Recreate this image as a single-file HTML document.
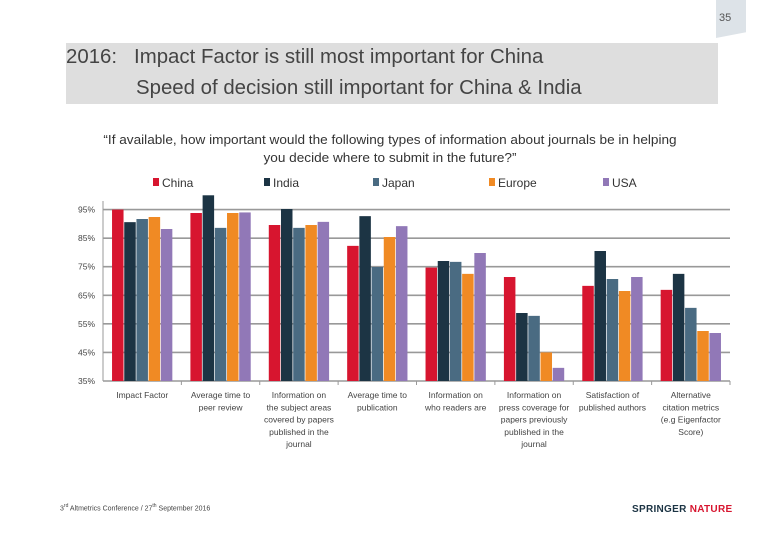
<!DOCTYPE html>
<html><head><meta charset="utf-8"><style>
body{margin:0;width:780px;height:540px;background:#fff;font-family:"Liberation Sans",sans-serif;position:relative;overflow:hidden;color:#333}
.abs{position:absolute}
</style></head><body>
<div class="abs" style="left:716px;top:0;width:30px;height:38px;background:#dde3e8;clip-path:polygon(0 0,100% 0,100% 85%,0 100%)"></div>
<div class="abs" style="left:719px;top:12px;font-size:11px;color:#555">35</div>
<div class="abs" style="left:66px;top:43px;width:652px;height:61px;background:#dedede"></div>
<div class="abs" style="left:66px;top:46px;font-size:20px;color:#444;white-space:nowrap;transform:scaleX(1.02);transform-origin:left">2016:&nbsp;&nbsp;&nbsp;Impact Factor is still most important for China</div>
<div class="abs" style="left:136px;top:77px;font-size:20px;color:#444;white-space:nowrap;transform:scaleX(1.02);transform-origin:left">Speed of decision still important for China &amp; India</div>
<div class="abs" style="left:50px;top:131px;width:680px;text-align:center;font-size:13px;line-height:18px;color:#333;white-space:nowrap;transform:scaleX(1.045);transform-origin:center">“If available, how important would the following types of information about journals be in helping<br>you decide where to submit in the future?”</div>
<svg id="chart" class="abs" style="left:0;top:0" width="780" height="540"></svg>
<div class="abs" style="left:60px;top:503px;font-size:7px;color:#444">3<sup style="font-size:5px">rd</sup> Altmetrics Conference / 27<sup style="font-size:5px">th</sup> September 2016</div>
<div class="abs" style="left:632px;top:504px;font-size:10px;font-weight:bold;color:#1c3444;letter-spacing:0.3px">SPRINGER <span style="color:#d7152f">NATURE</span></div>
<script>
const categories=["Impact Factor","Average time to|peer review","Information on|the subject areas|covered by papers|published in the|journal","Average time to|publication","Information on|who readers are","Information on|press coverage for|papers previously|published in the|journal","Satisfaction of|published authors","Alternative|citation metrics|(e.g Eigenfactor|Score)"];
const seriesNames=["China","India","Japan","Europe","USA"];
const colors=["#d7152f","#1c3444","#4a6b82","#f08a24","#9178b7"];
const china=[95,93.8,89.6,82.3,74.7,71.4,68.3,66.9];
const india=[90.6,100,95.2,92.7,77,58.8,80.5,72.5];
const japan=[91.7,88.6,88.6,74.9,76.7,57.8,70.7,60.6];
const europe=[92.4,93.8,89.6,85.4,72.5,45,66.5,52.5];
const usa=[88.2,94,90.7,89.2,79.8,39.6,71.4,51.8];
const ticks=[35,45,55,65,75,85,95];
const series=[china,india,japan,europe,usa];
const NS="http://www.w3.org/2000/svg";
const svg=document.getElementById('chart');
const x0=103,x1=730,yBase=381,yMin=35,pxPer=2.857;
const cw=(x1-x0)/categories.length;
function y(v){return yBase-(v-yMin)*pxPer;}
function mk(t,a){const e=document.createElementNS(NS,t);for(const k in a)e.setAttribute(k,a[k]);svg.appendChild(e);return e;}
ticks.forEach(t=>{
  const l=mk('line',{x1:x0,x2:x1,y1:y(t),y2:y(t),stroke:'#999','stroke-width':1.6});
  
  
  const tx=mk('text',{x:x0-8,y:y(t)+3,'text-anchor':'end','font-size':8.5,fill:'#444','font-family':'Liberation Sans, sans-serif'});
  tx.textContent=t+'%';
  
  
});
const ax=mk('line',{x1:x0,x2:x0,y1:y(98),y2:yBase,stroke:'#999','stroke-width':1});


const bw=11.5,gap=0.7;
categories.forEach((c,i)=>{
  const gx=x0+i*cw+(cw-(5*bw+4*gap))/2;
  series.forEach((s,j)=>{
    const r=mk('rect',{x:gx+j*(bw+gap),y:y(s[i]),width:bw,height:yBase-y(s[i]),fill:colors[j]});
    
    
  });
  const tk=mk('line',{x1:x0+(i+1)*cw,x2:x0+(i+1)*cw,y1:yBase,y2:yBase+4,stroke:'#999'});
  
  
  c.split('|').forEach((ln,k)=>{
    const t=mk('text',{x:x0+i*cw+cw/2,y:398+k*12.3,'text-anchor':'middle','font-size':8.5,fill:'#444','font-family':'Liberation Sans, sans-serif'});
    t.textContent=ln;
    
    
  });
});
const lx=[153,264,373,489,603];
seriesNames.forEach((n,j)=>{
  const r=mk('rect',{x:lx[j],y:178,width:6,height:8,fill:colors[j]});
  
  
  const t=mk('text',{x:lx[j]+9,y:187,'font-size':12,fill:'#333','font-family':'Liberation Sans, sans-serif'});
  t.textContent=n;
  
  
});
</script>
</body></html>
